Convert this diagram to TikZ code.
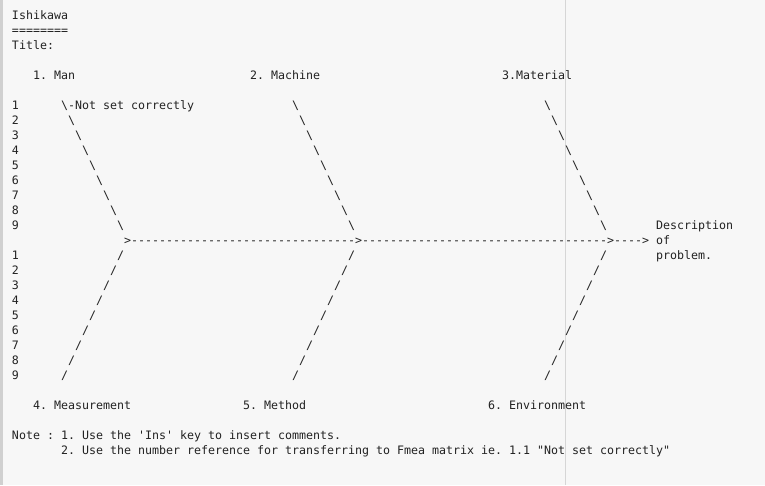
\documentclass[tikz,border=0pt]{standalone}
\usepackage{fontspec}
\setmonofont{DejaVu Sans Mono}
\definecolor{bg}{HTML}{F7F7F7}
\definecolor{edgegrey}{HTML}{D0D0D0}
\definecolor{rulegrey}{HTML}{D6D6D6}
\definecolor{ink}{HTML}{222222}
\tikzset{txt/.style={anchor=base west,inner sep=0pt,outer sep=0pt,text=ink,font=\ttfamily\fontsize{11.63}{15}\selectfont}}
\newcommand\tx[4]{\node[txt] (#1) at ({12+7*(#2)},{19+15*(#3)}) {#4};}
\begin{document}
\begin{tikzpicture}[x=1pt,y=-1pt]
\fill[bg] (0,0) rectangle (765,485);
\useasboundingbox (0,0) rectangle (765,485);
\fill[edgegrey] (0,0) rectangle (3,485);
\draw[rulegrey,line width=1pt] (565.5,0) -- (565.5,485);
% header
\tx{title}{0}{0}{Ishikawa}
\tx{uline}{0}{1}{========}
\tx{ttl}{0}{2}{Title:}
\tx{man}{3}{4}{1. Man}
\tx{machine}{34}{4}{2. Machine}
\tx{material}{70}{4}{3.Material}
% row numbers
\foreach \i in {1,...,9}{
  \tx{n\i}{0}{5+\i}{\i}
  \tx{m\i}{0}{15+\i}{\i}
}
% upper bones
\tx{ua0}{7}{6}{\textbackslash-Not set correctly}
\foreach \i in {1,...,8}{\tx{ua\i}{7+\i}{6+\i}{\textbackslash}}
\foreach \i in {0,...,8}{
  \tx{ub\i}{40+\i}{6+\i}{\textbackslash}
  \tx{uc\i}{76+\i}{6+\i}{\textbackslash}
}
% lower bones
\foreach \i in {0,...,8}{
  \tx{la\i}{15-\i}{16+\i}{/}
  \tx{lb\i}{48-\i}{16+\i}{/}
  \tx{lc\i}{84-\i}{16+\i}{/}
}
% spine
\tx{h1}{16}{15}{>}
\tx{s1}{17}{15}{--------------------------------}
\tx{h2}{49}{15}{>}
\tx{s2}{50}{15}{-----------------------------------}
\tx{h3}{85}{15}{>}
\tx{s3}{86}{15}{----}
\tx{h4}{90}{15}{>}
% effect
\tx{desc}{92}{14}{Description}
\tx{of}{92}{15}{of}
\tx{prob}{92}{16}{problem.}
% bottom labels
\tx{meas}{3}{26}{4. Measurement}
\tx{method}{33}{26}{5. Method}
\tx{env}{68}{26}{6. Environment}
% notes
\tx{note1}{0}{28}{Note : 1. Use the 'Ins' key to insert comments.}
\tx{note2}{7}{29}{2. Use the number reference for transferring to Fmea matrix ie. 1.1 "Not set correctly"}
\end{tikzpicture}
\end{document}
